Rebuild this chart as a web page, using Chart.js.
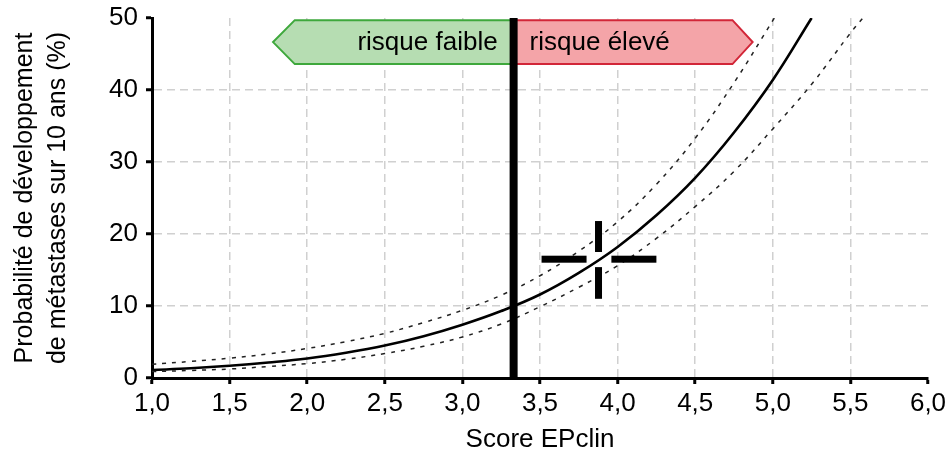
<!DOCTYPE html>
<html>
<head>
<meta charset="utf-8">
<script src="https://cdn.jsdelivr.net/npm/chart.js@4.4.0/dist/chart.umd.min.js"></script>
<style>
  html, body { margin: 0; padding: 0; background: #fff; }
  #wrap { width: 949px; height: 457px; }
</style>
</head>
<body>
<div id="wrap"><canvas id="risk-chart"></canvas></div>
<script>
// courbe centrale
var centralScores = [1.0, 1.25, 1.5, 1.75, 2.0, 2.25, 2.5, 2.75, 3.0, 3.25, 3.5, 3.75, 4.0, 4.25, 4.5, 4.75, 5.0, 5.25];
var centralRisk   = [1.1, 1.35, 1.7, 2.15, 2.7, 3.5, 4.5, 5.8, 7.4, 9.3, 11.6, 14.6, 18.2, 22.6, 27.8, 34.1, 41.4, 50];

// intervalle de confiance (haut / bas)
var upperScores = [1.0, 1.25, 1.5, 1.75, 2.0, 2.25, 2.5, 2.75, 3.0, 3.25, 3.5, 3.75, 4.0, 4.25, 4.5, 4.75, 5.01];
var upperRisk   = [1.9, 2.3, 2.75, 3.35, 4.1, 5.05, 6.2, 7.7, 9.4, 11.5, 14.2, 17.6, 21.7, 26.9, 33.3, 41.0, 50];
var lowerScores = [1.0, 1.25, 1.5, 1.75, 2.0, 2.25, 2.5, 2.75, 3.0, 3.25, 3.5, 3.75, 4.0, 4.25, 4.5, 4.75, 5.0, 5.25, 5.5, 5.58];
var lowerRisk   = [0.9, 1.05, 1.25, 1.6, 2.0, 2.6, 3.4, 4.4, 5.7, 7.5, 9.9, 12.6, 15.6, 19.4, 23.8, 28.7, 34.6, 40.8, 47.9, 50];

// seuil et patient (croix)
var threshold = 3.33;
var patientScore = [3.51, 3.80, 3.96, 4.25]; // segments horizontaux
var patientRisk = [11.0, 15.4, 17.5, 21.8];  // segments verticaux
var patientCenter = [3.877, 16.5];

// bandeau
var bandScores = [1.78, 1.92, 4.74, 4.87];
var bandRisk = [43.6, 49.7];
var bandLabels = ['risque faible', 'risque élevé'];

var xTicks = [1.0, 1.5, 2.0, 2.5, 3.0, 3.5, 4.0, 4.5, 5.0, 5.5, 6.0];
var yTicks = [0, 10, 20, 30, 40, 50];

function toPoints(xs, ys) {
    return xs.map(function (x, i) { return { x: x, y: ys[i] }; });
}

var FONT = '"Liberation Sans", Arial, sans-serif';

var overlayPlugin = {
    id: 'overlay',
    afterDatasetsDraw: function (chart) {
        var ctx = chart.ctx;
        var xs = chart.scales.x, ys = chart.scales.y;
        var area = chart.chartArea;
        var xt = xs.getPixelForValue(threshold);
        var top = ys.getPixelForValue(bandRisk[1]);
        var bot = ys.getPixelForValue(bandRisk[0]);
        var mid = (top + bot) / 2;
        var x0 = xs.getPixelForValue(bandScores[0]);
        var x1 = xs.getPixelForValue(bandScores[1]);
        var x2 = xs.getPixelForValue(bandScores[2]);
        var x3 = xs.getPixelForValue(bandScores[3]);

        ctx.save();
        ctx.lineWidth = 2;
        ctx.lineJoin = 'miter';

        // vert
        ctx.beginPath();
        ctx.moveTo(xt, top);
        ctx.lineTo(x1, top);
        ctx.lineTo(x0, mid);
        ctx.lineTo(x1, bot);
        ctx.lineTo(xt, bot);
        ctx.closePath();
        ctx.fillStyle = 'rgb(182, 221, 178)';
        ctx.fill();
        ctx.strokeStyle = 'rgb(62, 168, 60)';
        ctx.stroke();

        // rouge
        ctx.beginPath();
        ctx.moveTo(xt, top);
        ctx.lineTo(x2, top);
        ctx.lineTo(x3, mid);
        ctx.lineTo(x2, bot);
        ctx.lineTo(xt, bot);
        ctx.closePath();
        ctx.fillStyle = 'rgb(244, 164, 168)';
        ctx.fill();
        ctx.strokeStyle = 'rgb(210, 38, 56)';
        ctx.stroke();

        ctx.fillStyle = '#000';
        ctx.font = '26px ' + FONT;
        ctx.textBaseline = 'middle';
        ctx.textAlign = 'right';
        ctx.fillText(bandLabels[0], xt - 16, mid + 1);
        ctx.textAlign = 'left';
        ctx.fillText(bandLabels[1], xt + 16, mid + 1);

        // seuil
        ctx.fillRect(xt - 4, area.top, 8, area.bottom - area.top);

        // croix
        var cx = xs.getPixelForValue(patientCenter[0]);
        var cy = ys.getPixelForValue(patientCenter[1]);
        var h = 7;
        var a = xs.getPixelForValue(patientScore[0]);
        var b = xs.getPixelForValue(patientScore[1]);
        var c = xs.getPixelForValue(patientScore[2]);
        var d = xs.getPixelForValue(patientScore[3]);
        ctx.fillRect(a, cy - h / 2, b - a, h);
        ctx.fillRect(c, cy - h / 2, d - c, h);
        var e = ys.getPixelForValue(patientRisk[3]);
        var f = ys.getPixelForValue(patientRisk[2]);
        var g = ys.getPixelForValue(patientRisk[1]);
        var k = ys.getPixelForValue(patientRisk[0]);
        ctx.fillRect(cx - h / 2, e, h, f - e);
        ctx.fillRect(cx - h / 2, g, h, k - g);
        ctx.restore();
    }
};

var riskChartNode = document.getElementById('risk-chart').getContext('2d');
var riskChart = new Chart(riskChartNode, {
    type: 'scatter',
    data: {
        datasets: [{
            data: toPoints(upperScores, upperRisk),
            showLine: true,
            borderColor: '#222',
            borderWidth: 1.5,
            borderDash: [4, 6],
            pointRadius: 0,
            tension: 0.4
        }, {
            data: toPoints(lowerScores, lowerRisk),
            showLine: true,
            borderColor: '#222',
            borderWidth: 1.5,
            borderDash: [4, 6],
            pointRadius: 0,
            tension: 0.4
        }, {
            data: toPoints(centralScores, centralRisk),
            showLine: true,
            borderColor: '#000',
            borderWidth: 2.6,
            pointRadius: 0,
            tension: 0.4
        }]
    },
    options: {
        responsive: true,
        maintainAspectRatio: false,
        animation: false,
        layout: {
            padding: { left: 0, top: 18, right: 21, bottom: 2 }
        },
        plugins: {
            legend: { display: false },
            tooltip: { enabled: false }
        },
        scales: {
            x: {
                type: 'linear',
                min: 1,
                max: 6,
                afterBuildTicks: function (scale) {
                    scale.ticks = xTicks.map(function (v) { return { value: v }; });
                },
                afterFit: function (scale) {
                    scale.height = 77;
                    scale.paddingLeft = 0;
                    scale.paddingRight = 0;
                },
                ticks: {
                    autoSkip: false,
                    maxRotation: 0,
                    color: '#000',
                    padding: 4,
                    font: { family: FONT, size: 26 },
                    callback: function (v) { return v.toFixed(1).replace('.', ','); }
                },
                grid: {
                    color: function (c) {
                        var v = c.tick ? c.tick.value : 0;
                        return (v === 1 || v === 6) ? 'rgba(0,0,0,0)' : '#d0d0d0';
                    },
                    lineWidth: 1.5,
                    tickLength: 6,
                    tickWidth: 3,
                    tickColor: '#000'
                },
                border: { color: '#000', width: 3, dash: [8, 5] },
                title: {
                    display: true,
                    text: 'Score EPclin',
                    color: '#000',
                    font: { family: FONT, size: 26 },
                    padding: { top: 0, bottom: 0 }
                }
            },
            y: {
                min: 0,
                max: 50,
                afterBuildTicks: function (scale) {
                    scale.ticks = yTicks.map(function (v) { return { value: v }; });
                },
                afterFit: function (scale) {
                    scale.width = 152;
                    scale.paddingTop = 0;
                    scale.paddingBottom = 0;
                },
                ticks: {
                    color: '#000',
                    padding: 8,
                    font: { family: FONT, size: 26 }
                },
                grid: {
                    color: function (c) {
                        var v = c.tick ? c.tick.value : 0;
                        return (v === 0 || v === 50) ? 'rgba(0,0,0,0)' : '#d0d0d0';
                    },
                    lineWidth: 1.5,
                    tickLength: 6,
                    tickWidth: 3,
                    tickColor: '#000'
                },
                border: { color: '#000', width: 3, dash: [8, 5] },
                title: {
                    display: true,
                    text: ['Probabilité de développement', 'de métastases sur 10 ans (%)'],
                    color: '#000',
                    font: { family: FONT, size: 25, lineHeight: 1.32 },
                    padding: { top: 9, bottom: 0 }
                }
            }
        }
    },
    plugins: [overlayPlugin]
});
</script>
</body>
</html>
